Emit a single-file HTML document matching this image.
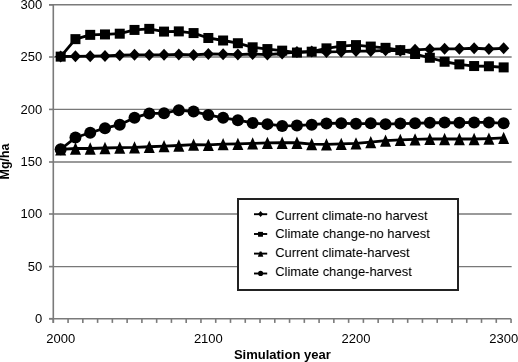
<!DOCTYPE html>
<html><head><meta charset="utf-8"><style>
html,body{margin:0;padding:0;background:#fff;width:518px;height:362px;overflow:hidden}
svg{display:block;filter:grayscale(1)}
.t{font-family:"Liberation Sans",sans-serif;font-size:13px;fill:#000}
.l{font-family:"Liberation Sans",sans-serif;font-size:12.95px;fill:#000}
.b{font-family:"Liberation Sans",sans-serif;font-size:13px;font-weight:bold;fill:#000}
</style></head><body><svg width="518" height="362" viewBox="0 0 518 362"><line x1="53.30" y1="266.60" x2="511.65" y2="266.60" stroke="#787878" stroke-width="1.3"/><line x1="53.30" y1="214.00" x2="511.65" y2="214.00" stroke="#787878" stroke-width="1.3"/><line x1="53.30" y1="162.00" x2="511.65" y2="162.00" stroke="#787878" stroke-width="1.3"/><line x1="53.30" y1="109.40" x2="511.65" y2="109.40" stroke="#787878" stroke-width="1.3"/><line x1="53.30" y1="57.00" x2="511.65" y2="57.00" stroke="#787878" stroke-width="1.3"/><line x1="49" y1="4.80" x2="511.75" y2="4.80" stroke="#7a7a7a" stroke-width="1.6"/><line x1="49" y1="318.70" x2="53.30" y2="318.70" stroke="#7a7a7a" stroke-width="1.6"/><line x1="49" y1="266.60" x2="53.30" y2="266.60" stroke="#7a7a7a" stroke-width="1.6"/><line x1="49" y1="214.00" x2="53.30" y2="214.00" stroke="#7a7a7a" stroke-width="1.6"/><line x1="49" y1="162.00" x2="53.30" y2="162.00" stroke="#7a7a7a" stroke-width="1.6"/><line x1="49" y1="109.40" x2="53.30" y2="109.40" stroke="#7a7a7a" stroke-width="1.6"/><line x1="49" y1="57.00" x2="53.30" y2="57.00" stroke="#7a7a7a" stroke-width="1.6"/><line x1="49" y1="4.80" x2="53.30" y2="4.80" stroke="#7a7a7a" stroke-width="1.6"/><line x1="53.30" y1="318.70" x2="53.30" y2="322.90" stroke="#7a7a7a" stroke-width="1.6"/><line x1="68.07" y1="318.70" x2="68.07" y2="322.90" stroke="#7a7a7a" stroke-width="1.6"/><line x1="82.83" y1="318.70" x2="82.83" y2="322.90" stroke="#7a7a7a" stroke-width="1.6"/><line x1="97.60" y1="318.70" x2="97.60" y2="322.90" stroke="#7a7a7a" stroke-width="1.6"/><line x1="112.36" y1="318.70" x2="112.36" y2="322.90" stroke="#7a7a7a" stroke-width="1.6"/><line x1="127.13" y1="318.70" x2="127.13" y2="322.90" stroke="#7a7a7a" stroke-width="1.6"/><line x1="141.90" y1="318.70" x2="141.90" y2="322.90" stroke="#7a7a7a" stroke-width="1.6"/><line x1="156.66" y1="318.70" x2="156.66" y2="322.90" stroke="#7a7a7a" stroke-width="1.6"/><line x1="171.43" y1="318.70" x2="171.43" y2="322.90" stroke="#7a7a7a" stroke-width="1.6"/><line x1="186.19" y1="318.70" x2="186.19" y2="322.90" stroke="#7a7a7a" stroke-width="1.6"/><line x1="200.96" y1="318.70" x2="200.96" y2="322.90" stroke="#7a7a7a" stroke-width="1.6"/><line x1="215.73" y1="318.70" x2="215.73" y2="322.90" stroke="#7a7a7a" stroke-width="1.6"/><line x1="230.49" y1="318.70" x2="230.49" y2="322.90" stroke="#7a7a7a" stroke-width="1.6"/><line x1="245.26" y1="318.70" x2="245.26" y2="322.90" stroke="#7a7a7a" stroke-width="1.6"/><line x1="260.02" y1="318.70" x2="260.02" y2="322.90" stroke="#7a7a7a" stroke-width="1.6"/><line x1="274.79" y1="318.70" x2="274.79" y2="322.90" stroke="#7a7a7a" stroke-width="1.6"/><line x1="289.56" y1="318.70" x2="289.56" y2="322.90" stroke="#7a7a7a" stroke-width="1.6"/><line x1="304.32" y1="318.70" x2="304.32" y2="322.90" stroke="#7a7a7a" stroke-width="1.6"/><line x1="319.09" y1="318.70" x2="319.09" y2="322.90" stroke="#7a7a7a" stroke-width="1.6"/><line x1="333.85" y1="318.70" x2="333.85" y2="322.90" stroke="#7a7a7a" stroke-width="1.6"/><line x1="348.62" y1="318.70" x2="348.62" y2="322.90" stroke="#7a7a7a" stroke-width="1.6"/><line x1="363.39" y1="318.70" x2="363.39" y2="322.90" stroke="#7a7a7a" stroke-width="1.6"/><line x1="378.15" y1="318.70" x2="378.15" y2="322.90" stroke="#7a7a7a" stroke-width="1.6"/><line x1="392.92" y1="318.70" x2="392.92" y2="322.90" stroke="#7a7a7a" stroke-width="1.6"/><line x1="407.68" y1="318.70" x2="407.68" y2="322.90" stroke="#7a7a7a" stroke-width="1.6"/><line x1="422.45" y1="318.70" x2="422.45" y2="322.90" stroke="#7a7a7a" stroke-width="1.6"/><line x1="437.22" y1="318.70" x2="437.22" y2="322.90" stroke="#7a7a7a" stroke-width="1.6"/><line x1="451.98" y1="318.70" x2="451.98" y2="322.90" stroke="#7a7a7a" stroke-width="1.6"/><line x1="466.75" y1="318.70" x2="466.75" y2="322.90" stroke="#7a7a7a" stroke-width="1.6"/><line x1="481.51" y1="318.70" x2="481.51" y2="322.90" stroke="#7a7a7a" stroke-width="1.6"/><line x1="496.28" y1="318.70" x2="496.28" y2="322.90" stroke="#7a7a7a" stroke-width="1.6"/><line x1="511.05" y1="318.70" x2="511.05" y2="322.90" stroke="#7a7a7a" stroke-width="1.6"/><line x1="53.30" y1="4.80" x2="53.30" y2="322.90" stroke="#7a7a7a" stroke-width="1.6"/><line x1="49" y1="318.70" x2="511.05" y2="318.70" stroke="#7a7a7a" stroke-width="1.6"/><polyline points="60.68,149.46 75.45,148.52 90.22,148.52 104.98,147.99 119.75,147.68 134.51,147.47 149.28,146.74 164.05,146.11 178.81,145.48 193.58,144.64 208.34,144.85 223.11,144.12 237.88,143.91 252.64,143.39 267.41,142.97 282.17,142.76 296.94,142.76 311.70,144.12 326.47,144.33 341.24,143.91 356.00,143.39 370.77,142.13 385.54,140.67 400.30,139.93 415.07,139.41 429.83,138.78 444.60,138.99 459.37,138.99 474.13,138.99 488.90,138.57 503.66,137.84" fill="none" stroke="#000" stroke-width="2.8" stroke-linejoin="round"/><g fill="#000"><path d="M60.68 143.31L66.18 155.61L55.18 155.61Z"/><path d="M75.45 142.37L80.95 154.67L69.95 154.67Z"/><path d="M90.22 142.37L95.72 154.67L84.72 154.67Z"/><path d="M104.98 141.84L110.48 154.14L99.48 154.14Z"/><path d="M119.75 141.53L125.25 153.83L114.25 153.83Z"/><path d="M134.51 141.32L140.01 153.62L129.01 153.62Z"/><path d="M149.28 140.59L154.78 152.89L143.78 152.89Z"/><path d="M164.05 139.96L169.55 152.26L158.55 152.26Z"/><path d="M178.81 139.33L184.31 151.63L173.31 151.63Z"/><path d="M193.58 138.49L199.08 150.79L188.08 150.79Z"/><path d="M208.34 138.70L213.84 151.00L202.84 151.00Z"/><path d="M223.11 137.97L228.61 150.27L217.61 150.27Z"/><path d="M237.88 137.76L243.38 150.06L232.38 150.06Z"/><path d="M252.64 137.24L258.14 149.54L247.14 149.54Z"/><path d="M267.41 136.82L272.91 149.12L261.91 149.12Z"/><path d="M282.17 136.61L287.67 148.91L276.67 148.91Z"/><path d="M296.94 136.61L302.44 148.91L291.44 148.91Z"/><path d="M311.70 137.97L317.20 150.27L306.20 150.27Z"/><path d="M326.47 138.18L331.97 150.48L320.97 150.48Z"/><path d="M341.24 137.76L346.74 150.06L335.74 150.06Z"/><path d="M356.00 137.24L361.50 149.54L350.50 149.54Z"/><path d="M370.77 135.98L376.27 148.28L365.27 148.28Z"/><path d="M385.54 134.52L391.04 146.82L380.04 146.82Z"/><path d="M400.30 133.78L405.80 146.08L394.80 146.08Z"/><path d="M415.07 133.26L420.57 145.56L409.57 145.56Z"/><path d="M429.83 132.63L435.33 144.93L424.33 144.93Z"/><path d="M444.60 132.84L450.10 145.14L439.10 145.14Z"/><path d="M459.37 132.84L464.87 145.14L453.87 145.14Z"/><path d="M474.13 132.84L479.63 145.14L468.63 145.14Z"/><path d="M488.90 132.42L494.40 144.72L483.40 144.72Z"/><path d="M503.66 131.69L509.16 143.99L498.16 143.99Z"/></g><polyline points="60.68,149.25 75.45,137.53 90.22,132.71 104.98,128.21 119.75,124.65 134.51,117.64 149.28,113.45 164.05,113.24 178.81,110.21 193.58,111.57 208.34,114.92 223.11,117.85 237.88,120.15 252.64,122.98 267.41,124.13 282.17,125.91 296.94,125.59 311.70,124.65 326.47,123.50 341.24,123.19 356.00,123.81 370.77,123.29 385.54,124.13 400.30,123.61 415.07,123.29 429.83,122.77 444.60,122.56 459.37,122.77 474.13,122.45 488.90,122.45 503.66,123.29" fill="none" stroke="#000" stroke-width="2.8" stroke-linejoin="round"/><g fill="#000"><circle cx="60.68" cy="149.25" r="6.0"/><circle cx="75.45" cy="137.53" r="6.0"/><circle cx="90.22" cy="132.71" r="6.0"/><circle cx="104.98" cy="128.21" r="6.0"/><circle cx="119.75" cy="124.65" r="6.0"/><circle cx="134.51" cy="117.64" r="6.0"/><circle cx="149.28" cy="113.45" r="6.0"/><circle cx="164.05" cy="113.24" r="6.0"/><circle cx="178.81" cy="110.21" r="6.0"/><circle cx="193.58" cy="111.57" r="6.0"/><circle cx="208.34" cy="114.92" r="6.0"/><circle cx="223.11" cy="117.85" r="6.0"/><circle cx="237.88" cy="120.15" r="6.0"/><circle cx="252.64" cy="122.98" r="6.0"/><circle cx="267.41" cy="124.13" r="6.0"/><circle cx="282.17" cy="125.91" r="6.0"/><circle cx="296.94" cy="125.59" r="6.0"/><circle cx="311.70" cy="124.65" r="6.0"/><circle cx="326.47" cy="123.50" r="6.0"/><circle cx="341.24" cy="123.19" r="6.0"/><circle cx="356.00" cy="123.81" r="6.0"/><circle cx="370.77" cy="123.29" r="6.0"/><circle cx="385.54" cy="124.13" r="6.0"/><circle cx="400.30" cy="123.61" r="6.0"/><circle cx="415.07" cy="123.29" r="6.0"/><circle cx="429.83" cy="122.77" r="6.0"/><circle cx="444.60" cy="122.56" r="6.0"/><circle cx="459.37" cy="122.77" r="6.0"/><circle cx="474.13" cy="122.45" r="6.0"/><circle cx="488.90" cy="122.45" r="6.0"/><circle cx="503.66" cy="123.29" r="6.0"/></g><polyline points="60.68,56.51 75.45,56.30 90.22,56.20 104.98,55.89 119.75,55.26 134.51,54.84 149.28,54.94 164.05,54.84 178.81,54.42 193.58,54.94 208.34,54.00 223.11,54.21 237.88,54.53 252.64,54.00 267.41,54.53 282.17,53.48 296.94,52.01 311.70,51.59 326.47,51.91 341.24,51.70 356.00,51.07 370.77,51.07 385.54,50.34 400.30,50.65 415.07,49.82 429.83,49.19 444.60,48.87 459.37,48.87 474.13,48.25 488.90,48.98 503.66,48.35" fill="none" stroke="#000" stroke-width="2.8" stroke-linejoin="round"/><g fill="#000"><path d="M60.68 50.51L66.28 56.51L60.68 62.51L55.08 56.51Z"/><path d="M75.45 50.30L81.05 56.30L75.45 62.30L69.85 56.30Z"/><path d="M90.22 50.20L95.81 56.20L90.22 62.20L84.62 56.20Z"/><path d="M104.98 49.89L110.58 55.89L104.98 61.89L99.38 55.89Z"/><path d="M119.75 49.26L125.35 55.26L119.75 61.26L114.15 55.26Z"/><path d="M134.51 48.84L140.11 54.84L134.51 60.84L128.91 54.84Z"/><path d="M149.28 48.94L154.88 54.94L149.28 60.94L143.68 54.94Z"/><path d="M164.05 48.84L169.65 54.84L164.05 60.84L158.45 54.84Z"/><path d="M178.81 48.42L184.41 54.42L178.81 60.42L173.21 54.42Z"/><path d="M193.58 48.94L199.18 54.94L193.58 60.94L187.98 54.94Z"/><path d="M208.34 48.00L213.94 54.00L208.34 60.00L202.74 54.00Z"/><path d="M223.11 48.21L228.71 54.21L223.11 60.21L217.51 54.21Z"/><path d="M237.88 48.53L243.47 54.53L237.88 60.53L232.28 54.53Z"/><path d="M252.64 48.00L258.24 54.00L252.64 60.00L247.04 54.00Z"/><path d="M267.41 48.53L273.01 54.53L267.41 60.53L261.81 54.53Z"/><path d="M282.17 47.48L287.77 53.48L282.17 59.48L276.57 53.48Z"/><path d="M296.94 46.01L302.54 52.01L296.94 58.01L291.34 52.01Z"/><path d="M311.70 45.59L317.31 51.59L311.70 57.59L306.10 51.59Z"/><path d="M326.47 45.91L332.07 51.91L326.47 57.91L320.87 51.91Z"/><path d="M341.24 45.70L346.84 51.70L341.24 57.70L335.64 51.70Z"/><path d="M356.00 45.07L361.60 51.07L356.00 57.07L350.40 51.07Z"/><path d="M370.77 45.07L376.37 51.07L370.77 57.07L365.17 51.07Z"/><path d="M385.54 44.34L391.14 50.34L385.54 56.34L379.94 50.34Z"/><path d="M400.30 44.65L405.90 50.65L400.30 56.65L394.70 50.65Z"/><path d="M415.07 43.82L420.67 49.82L415.07 55.82L409.47 49.82Z"/><path d="M429.83 43.19L435.43 49.19L429.83 55.19L424.23 49.19Z"/><path d="M444.60 42.87L450.20 48.87L444.60 54.87L439.00 48.87Z"/><path d="M459.37 42.87L464.97 48.87L459.37 54.87L453.76 48.87Z"/><path d="M474.13 42.25L479.73 48.25L474.13 54.25L468.53 48.25Z"/><path d="M488.90 42.98L494.50 48.98L488.90 54.98L483.30 48.98Z"/><path d="M503.66 42.35L509.26 48.35L503.66 54.35L498.06 48.35Z"/></g><polyline points="60.68,56.62 75.45,39.14 90.22,34.85 104.98,34.43 119.75,33.70 134.51,29.93 149.28,28.88 164.05,31.60 178.81,31.39 193.58,33.07 208.34,37.99 223.11,40.50 237.88,43.22 252.64,47.30 267.41,49.08 282.17,50.65 296.94,52.54 311.70,51.70 326.47,48.35 341.24,46.05 356.00,45.11 370.77,46.57 385.54,47.83 400.30,50.13 415.07,54.00 429.83,57.77 444.60,61.75 459.37,64.36 474.13,66.04 488.90,66.25 503.66,67.40" fill="none" stroke="#000" stroke-width="2.8" stroke-linejoin="round"/><g fill="#000"><rect x="55.68" y="51.62" width="10" height="10"/><rect x="70.45" y="34.14" width="10" height="10"/><rect x="85.22" y="29.85" width="10" height="10"/><rect x="99.98" y="29.43" width="10" height="10"/><rect x="114.75" y="28.70" width="10" height="10"/><rect x="129.51" y="24.93" width="10" height="10"/><rect x="144.28" y="23.88" width="10" height="10"/><rect x="159.05" y="26.60" width="10" height="10"/><rect x="173.81" y="26.39" width="10" height="10"/><rect x="188.58" y="28.07" width="10" height="10"/><rect x="203.34" y="32.99" width="10" height="10"/><rect x="218.11" y="35.50" width="10" height="10"/><rect x="232.88" y="38.22" width="10" height="10"/><rect x="247.64" y="42.30" width="10" height="10"/><rect x="262.41" y="44.08" width="10" height="10"/><rect x="277.17" y="45.65" width="10" height="10"/><rect x="291.94" y="47.54" width="10" height="10"/><rect x="306.70" y="46.70" width="10" height="10"/><rect x="321.47" y="43.35" width="10" height="10"/><rect x="336.24" y="41.05" width="10" height="10"/><rect x="351.00" y="40.11" width="10" height="10"/><rect x="365.77" y="41.57" width="10" height="10"/><rect x="380.54" y="42.83" width="10" height="10"/><rect x="395.30" y="45.13" width="10" height="10"/><rect x="410.07" y="49.00" width="10" height="10"/><rect x="424.83" y="52.77" width="10" height="10"/><rect x="439.60" y="56.75" width="10" height="10"/><rect x="454.37" y="59.36" width="10" height="10"/><rect x="469.13" y="61.04" width="10" height="10"/><rect x="483.90" y="61.25" width="10" height="10"/><rect x="498.66" y="62.40" width="10" height="10"/></g><text x="42.3" y="322.90" text-anchor="end" class="t">0</text><text x="42.3" y="270.80" text-anchor="end" class="t">50</text><text x="42.3" y="218.20" text-anchor="end" class="t">100</text><text x="42.3" y="166.20" text-anchor="end" class="t">150</text><text x="42.3" y="113.60" text-anchor="end" class="t">200</text><text x="42.3" y="61.20" text-anchor="end" class="t">250</text><text x="42.3" y="9.00" text-anchor="end" class="t">300</text><text x="60.68" y="342.6" text-anchor="middle" class="t">2000</text><text x="208.34" y="342.6" text-anchor="middle" class="t">2100</text><text x="356.00" y="342.6" text-anchor="middle" class="t">2200</text><text x="503.66" y="342.6" text-anchor="middle" class="t">2300</text><text x="282.3" y="358.8" text-anchor="middle" class="b">Simulation year</text><text transform="translate(9.4 161.5) rotate(-90)" text-anchor="middle" class="b" style="font-size:12.4px">Mg/ha</text><rect x="238" y="199" width="220" height="91" fill="#fff" stroke="#222" stroke-width="2"/><line x1="254" y1="214.2" x2="267.2" y2="214.2" stroke="#000" stroke-width="1.9"/><path d="M260.60 211.00L263.20 214.00L260.60 217.00L258.00 214.00Z"/><text x="275.2" y="219.50" class="l">Current climate-no harvest</text><line x1="254" y1="234.0" x2="267.2" y2="234.0" stroke="#000" stroke-width="1.9"/><rect x="258.05" y="231.85" width="4.9" height="4.9"/><text x="275.2" y="238.40" class="l">Climate change-no harvest</text><line x1="254" y1="253.6" x2="267.2" y2="253.6" stroke="#000" stroke-width="1.9"/><path d="M259.70 251.60L261.50 251.60L263.30 256.70L257.90 256.70Z"/><text x="275.2" y="257.20" class="l">Current climate-harvest</text><line x1="254" y1="273.5" x2="267.2" y2="273.5" stroke="#000" stroke-width="1.9"/><circle cx="260.60" cy="273.40" r="2.55"/><text x="275.2" y="276.00" class="l">Climate change-harvest</text></svg></body></html>
